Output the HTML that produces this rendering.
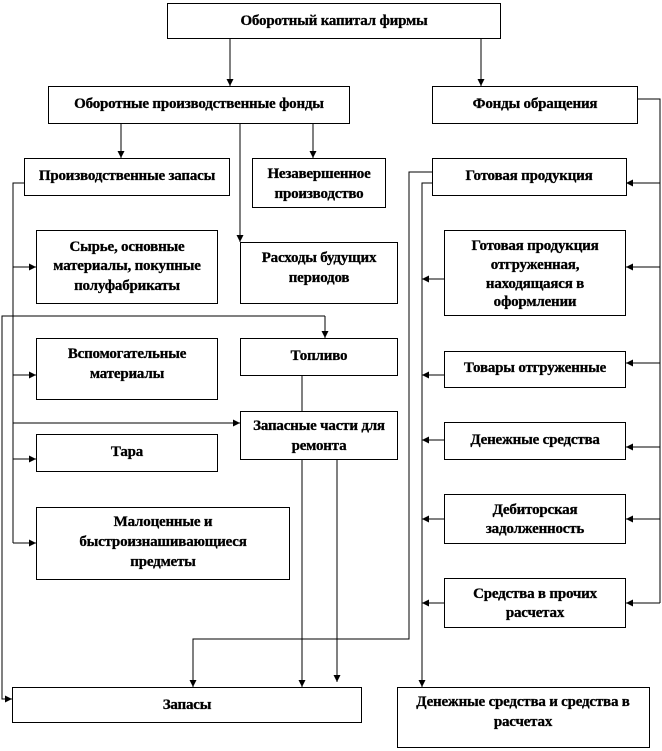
<!DOCTYPE html>
<html><head><meta charset="utf-8"><style>
html,body{margin:0;padding:0;background:#fff;}
svg{display:block;}
text{font-family:"Liberation Serif","DejaVu Serif",serif;font-weight:bold;font-size:15px;fill:#000;text-anchor:middle;letter-spacing:-0.2px;stroke:#000;stroke-width:0.3px;}
rect{fill:#fff;stroke:#000;stroke-width:1;}
line,polyline{stroke:#000;stroke-width:1;fill:none;}
</style></head><body>
<svg width="662" height="751" viewBox="0 0 662 751" xmlns="http://www.w3.org/2000/svg">
<defs>
<marker id="a" markerWidth="8" markerHeight="8" refX="7" refY="4" orient="auto" markerUnits="userSpaceOnUse">
<path d="M0,0.5 L7,4 L0,7.5 Z" fill="#000"/>
</marker>
</defs>
<line x1="230" y1="39" x2="230" y2="86" marker-end="url(#a)"/>
<line x1="481" y1="39" x2="481" y2="86" marker-end="url(#a)"/>
<line x1="121" y1="123" x2="121" y2="158" marker-end="url(#a)"/>
<line x1="313" y1="123" x2="313" y2="158" marker-end="url(#a)"/>
<line x1="240" y1="123" x2="240" y2="242" marker-end="url(#a)"/>
<polyline points="24,183 13,183 13,543"/>
<line x1="13" y1="267" x2="36" y2="267" marker-end="url(#a)"/>
<line x1="13" y1="375" x2="36" y2="375" marker-end="url(#a)"/>
<line x1="13" y1="423" x2="240" y2="423" marker-end="url(#a)"/>
<line x1="13" y1="459" x2="36" y2="459" marker-end="url(#a)"/>
<line x1="13" y1="543" x2="36" y2="543" marker-end="url(#a)"/>
<polyline points="325,316 2,316 2,699 12,699" marker-end="url(#a)"/>
<line x1="325" y1="316" x2="325" y2="338" marker-end="url(#a)"/>
<line x1="302" y1="375" x2="302" y2="411"/>
<line x1="302" y1="459" x2="302" y2="687" marker-end="url(#a)"/>
<line x1="337" y1="459" x2="337" y2="682" marker-end="url(#a)" stroke="#444"/>
<polyline points="432,172 409,172 409,639 193,639 193,687" marker-end="url(#a)"/>
<polyline points="432,183 422,183 422,687" marker-end="url(#a)"/>
<polyline points="637,99 660,99 660,603"/>
<line x1="660" y1="183" x2="626" y2="183" marker-end="url(#a)"/>
<line x1="660" y1="267" x2="626" y2="267" marker-end="url(#a)"/>
<line x1="660" y1="363" x2="626" y2="363" marker-end="url(#a)"/>
<line x1="660" y1="447" x2="626" y2="447" marker-end="url(#a)"/>
<line x1="660" y1="519" x2="626" y2="519" marker-end="url(#a)"/>
<line x1="660" y1="603" x2="626" y2="603" marker-end="url(#a)"/>
<line x1="444" y1="279" x2="422" y2="279" marker-end="url(#a)"/>
<line x1="444" y1="375" x2="422" y2="375" marker-end="url(#a)"/>
<line x1="444" y1="440" x2="422" y2="440" marker-end="url(#a)"/>
<line x1="444" y1="519" x2="422" y2="519" marker-end="url(#a)"/>
<line x1="444" y1="603" x2="422" y2="603" marker-end="url(#a)"/>

<rect x="167.5" y="3.5" width="333" height="35"/>
<text x="334" y="25">Оборотный капитал фирмы</text>
<rect x="48.5" y="86.5" width="301" height="37"/>
<text x="199" y="108">Оборотные производственные фонды</text>
<rect x="432.5" y="86.5" width="205" height="37"/>
<text x="535" y="108">Фонды обращения</text>
<rect x="24.5" y="158.5" width="205" height="37"/>
<text x="127" y="180">Производственные запасы</text>
<rect x="252.5" y="158.5" width="133" height="49"/>
<text x="319" y="178">Незавершенное</text>
<text x="319" y="198">производство</text>
<rect x="432.5" y="158.5" width="194" height="37"/>
<text x="529" y="180">Готовая продукция</text>
<rect x="36.5" y="230.5" width="181" height="73"/>
<text x="127" y="251">Сырье, основные</text>
<text x="127" y="270">материалы, покупные</text>
<text x="127" y="290">полуфабрикаты</text>
<rect x="240.5" y="242.5" width="157" height="61"/>
<text x="319" y="262">Расходы будущих</text>
<text x="319" y="282">периодов</text>
<rect x="444.5" y="230.5" width="181" height="85"/>
<text x="535" y="250">Готовая продукция</text>
<text x="535" y="269">отгруженная,</text>
<text x="535" y="288">находящаяся в</text>
<text x="535" y="306">оформлении</text>
<rect x="36.5" y="338.5" width="181" height="61"/>
<text x="127" y="358">Вспомогательные</text>
<text x="127" y="378">материалы</text>
<rect x="240.5" y="338.5" width="157" height="37"/>
<text x="319" y="360">Топливо</text>
<rect x="444.5" y="351.5" width="181" height="36"/>
<text x="535" y="372">Товары отгруженные</text>
<rect x="240.5" y="411.5" width="157" height="48"/>
<text x="319" y="430">Запасные части для</text>
<text x="319" y="450">ремонта</text>
<rect x="36.5" y="434.5" width="181" height="37"/>
<text x="127" y="456">Тара</text>
<rect x="444.5" y="422.5" width="181" height="37"/>
<text x="535" y="444">Денежные средства</text>
<rect x="444.5" y="494.5" width="181" height="49"/>
<text x="535" y="514">Дебиторская</text>
<text x="535" y="533">задолженность</text>
<rect x="36.5" y="507.5" width="253" height="72"/>
<text x="163" y="526">Малоценные и</text>
<text x="163" y="546">быстроизнашивающиеся</text>
<text x="163" y="566">предметы</text>
<rect x="444.5" y="578.5" width="181" height="49"/>
<text x="535" y="598">Средства в прочих</text>
<text x="535" y="617">расчетах</text>
<rect x="12.5" y="687.5" width="349" height="35"/>
<text x="187" y="709">Запасы</text>
<rect x="397.5" y="687.5" width="252" height="60"/>
<text x="523" y="706">Денежные средства и средства в</text>
<text x="523" y="726">расчетах</text>
</svg>
</body></html>
